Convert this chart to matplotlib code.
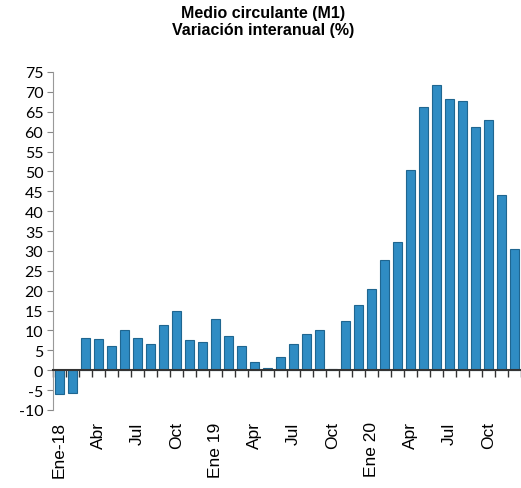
import numpy as np
import matplotlib
matplotlib.use("Agg")
import matplotlib.pyplot as plt
import matplotlib.transforms as mtransforms

# monthly data, Ene-2018 .. Dic-2020
valores = [-6.0, -5.6, 8.0, 7.8, 6.0, 10.2, 8.0, 6.7, 11.5, 14.8, 7.7, 7.2,
           12.8, 8.5, 6.0, 2.0, 0.6, 3.4, 6.5, 9.1, 10.1, 0.3, 12.5, 16.4,
           20.5, 27.8, 32.2, 50.4, 66.1, 71.7, 68.1, 67.6, 61.2, 63.0, 44.1, 30.4]
etiquetas = ["Ene-18", "Abr", "Jul", "Oct", "Ene 19", "Apr", "Jul", "Oct",
             "Ene 20", "Apr", "Jul", "Oct"]
pos_etiquetas = list(range(0, 36, 3))
yticks = list(range(-10, 80, 5))

W, H = 521, 489
fig = plt.figure(figsize=(W / 100, H / 100), dpi=100)
ax = fig.add_axes([53 / W, 1 - 411 / H, (521 - 53) / W, (411 - 73) / H])

x = np.arange(len(valores))
ax.bar(x, valores, width=0.64, color="#2f8cc3", edgecolor="#1f6690",
       linewidth=0.8, zorder=2)

ax.set_xlim(-0.5, len(valores) - 0.5)
ax.set_ylim(-10, 75)
ax.set_yticks(yticks)
ax.set_yticklabels([str(v) for v in yticks], family="Lato", fontsize=11.5)
ax.tick_params(axis="y", direction="out", length=4, color="#888888", pad=3)

for s in ["top", "right"]:
    ax.spines[s].set_visible(False)
ax.spines["left"].set_color("#999999")
ax.spines["left"].set_linewidth(0.8)
ax.spines["left"].set_linestyle((0, (1, 1)))
ax.spines["bottom"].set_position(("data", 0))
ax.spines["bottom"].set_color("#333333")
ax.spines["bottom"].set_linewidth(1.5)

ax.set_xticks([])
ax.set_xticks(np.arange(len(valores) + 1) - 0.5, minor=True)
ax.tick_params(axis="x", which="minor", direction="out", length=5,
               width=1, color="#333333")

trans = mtransforms.blended_transform_factory(ax.transData, ax.transAxes)
for p, lab in zip(pos_etiquetas, etiquetas):
    ax.text(p, -0.034, lab, transform=trans, rotation=90, ha="center",
            va="top", family="Liberation Sans", fontsize=12.5)

fig.suptitle("Medio circulante (M1)\nVariación interanual (%)", x=0.505, y=0.988,
             family="Liberation Sans", fontweight="bold", fontsize=11.5,
             linespacing=1.2)

fig.savefig("out.png", dpi=100)
